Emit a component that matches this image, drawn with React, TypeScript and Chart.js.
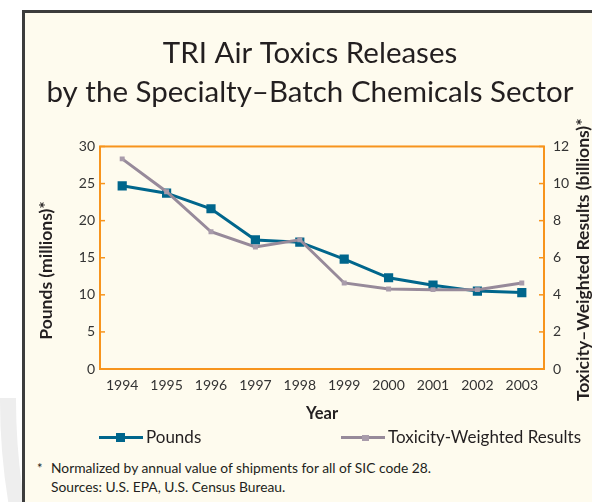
import React, { useEffect, useRef } from "react";
import { Chart, registerables } from "chart.js";

Chart.register(...registerables);

const years = ["1994", "1995", "1996", "1997", "1998", "1999", "2000", "2001", "2002", "2003"];
const pounds = [24.7, 23.7, 21.6, 17.4, 17.1, 14.8, 12.3, 11.3, 10.5, 10.3];
const toxicity = [11.33, 9.56, 7.4, 6.58, 6.97, 4.64, 4.31, 4.28, 4.28, 4.64];
const titleLines = ["TRI Air Toxics Releases", "by the Specialty\u2013Batch Chemicals Sector"];
const leftAxisTitle = "Pounds (millions)*      ";
const rightAxisTitle = "Toxicity\u2013Weighted Results (billions)*";
const xAxisTitle = "Year";
const footnote1 = "Normalized by annual value of shipments for all of SIC code 28.";
const footnote2 = "Sources: U.S. EPA, U.S. Census Bureau.";

const TEAL = "#00668c";
const GREY = "#978a9a";
const GREY_PT = "#a99cab";
const ORANGE = "#f7941d";
const TEXT = "#231f20";
const FONT = "Lato, 'Open Sans', sans-serif";

const framePlugin = {
  id: "frameTicks",
  beforeDatasetsDraw(chart: any) {
    const { ctx, chartArea } = chart;
    const { left, right, top, bottom } = chartArea;
    ctx.save();
    ctx.strokeStyle = ORANGE;
    ctx.lineWidth = 2;
    ctx.strokeRect(left, top, right - left, bottom - top);
    ctx.lineWidth = 1.5;
    const y = chart.scales.y;
    y.ticks.forEach((t: any) => {
      const py = y.getPixelForValue(t.value);
      ctx.beginPath();
      ctx.moveTo(left, py);
      ctx.lineTo(left + 5, py);
      ctx.stroke();
    });
    const y1 = chart.scales.y1;
    y1.ticks.forEach((t: any) => {
      const py = y1.getPixelForValue(t.value);
      ctx.beginPath();
      ctx.moveTo(right, py);
      ctx.lineTo(right - 5, py);
      ctx.stroke();
    });
    ctx.restore();
  },
  afterDraw(chart: any) {
    // right axis title reads bottom-to-top, as in the reference
    const { ctx, chartArea } = chart;
    const y1 = chart.scales.y1;
    ctx.save();
    ctx.fillStyle = TEXT;
    ctx.font = `bold 17.5px ${FONT}`;
    ctx.textAlign = "center";
    ctx.textBaseline = "middle";
    ctx.translate(y1.right - 8.5, (chartArea.top + chartArea.bottom) / 2 + 2);
    ctx.rotate(-Math.PI / 2);
    ctx.fillText(rightAxisTitle, 0, 0);
    ctx.restore();
  },
};

export default function App() {
  const ref = useRef<HTMLCanvasElement | null>(null);

  useEffect(() => {
    if (!ref.current) return;
    Chart.defaults.font.family = FONT;
    const chart = new Chart(ref.current, {
      type: "line",
      data: {
        labels: years,
        datasets: [
          {
            label: "Pounds",
            data: pounds,
            yAxisID: "y",
            borderColor: TEAL,
            backgroundColor: TEAL,
            borderWidth: 3,
            pointStyle: "rect",
            pointRadius: 6.5,
            pointBorderWidth: 0,
            pointBackgroundColor: TEAL,
            order: 2,
          },
          {
            label: "Toxicity-Weighted Results",
            data: toxicity,
            yAxisID: "y1",
            borderColor: GREY,
            backgroundColor: GREY_PT,
            borderWidth: 3,
            pointStyle: "rect",
            pointRadius: 3.5,
            pointBorderWidth: 0,
            pointBackgroundColor: GREY_PT,
            order: 1,
          },
        ],
      },
      options: {
        animation: false,
        responsive: false,
        maintainAspectRatio: false,
        layout: { padding: { left: 28, right: 0, top: 0, bottom: 0 } },
        plugins: {
          legend: { display: false },
          tooltip: { enabled: false },
          title: {
            display: true,
            text: titleLines,
            color: TEXT,
            font: { family: FONT, size: 29.5, weight: "normal", lineHeight: 1.33 },
            padding: { top: 34, bottom: 34 },
          },
        },
        scales: {
          x: {
            offset: true,
            grid: { display: false, drawTicks: false },
            border: { display: false },
            ticks: { color: "#333", font: { size: 14 }, padding: 8, maxRotation: 0 },
            title: {
              display: true,
              text: xAxisTitle,
              color: TEXT,
              font: { size: 16.5, weight: "bold", lineHeight: 1.2 },
              padding: { top: 0, bottom: 6 },
            },
            afterFit: (s: any) => {
              s.height = 61;
            },
          },
          y: {
            position: "left",
            min: 0,
            max: 30,
            grid: { display: false, drawTicks: false },
            border: { display: false },
            ticks: { stepSize: 5, color: "#333", font: { size: 14 }, padding: 5 },
            title: {
              display: true,
              text: leftAxisTitle,
              color: TEXT,
              font: { size: 17.5, weight: "bold", lineHeight: 1.0 },
              padding: { top: 10, bottom: 0 },
            },
            afterFit: (s: any) => {
              s.width = 72;
            },
          },
          y1: {
            position: "right",
            min: 0,
            max: 12,
            grid: { display: false, drawTicks: false },
            border: { display: false },
            ticks: { stepSize: 2, color: "#333", font: { size: 14 }, padding: 9 },
            title: { display: false, text: rightAxisTitle },
            afterFit: (s: any) => {
              s.width = 48;
            },
          },
        },
      },
      plugins: [framePlugin],
    });
    return () => chart.destroy();
  }, []);

  const abs = (o: any): React.CSSProperties => ({ position: "absolute", ...o });

  return (
    <div style={abs({ left: 0, top: 0, width: 592, height: 502, overflow: "hidden", background: "#fff", fontFamily: FONT })}>
      <div style={abs({ left: 0, top: 398, width: 22, height: 104, overflow: "hidden" })}>
        <div
          style={abs({
            left: 0,
            top: 2 - 629,
            width: 1258,
            height: 1258,
            borderRadius: "50%",
            border: "16px solid #eeeeee",
            boxSizing: "border-box",
          })}
        />
      </div>
      <div
        style={abs({
          left: 22,
          top: 10,
          width: 640,
          height: 560,
          background: "#fefbee",
          borderLeft: "3px solid #3c3c3c",
          borderTop: "3px solid #3c3c3c",
          boxSizing: "border-box",
        })}
      />
      <canvas ref={ref} width={592} height={430} style={abs({ left: 0, top: 0, width: 592, height: 430 })} />
      <div style={abs({ left: 99, top: 436, width: 44, height: 3, background: TEAL })} />
      <div style={abs({ left: 116, top: 433, width: 9, height: 9, background: TEAL })} />
      <div style={abs({ left: 146, top: 426, height: 22, lineHeight: "22px", fontSize: 17, color: TEXT, whiteSpace: "nowrap" })}>
        Pounds
      </div>
      <div style={abs({ left: 341, top: 436, width: 44, height: 3, background: GREY })} />
      <div style={abs({ left: 362, top: 434.5, width: 7, height: 6, background: GREY_PT })} />
      <div style={abs({ left: 388, top: 426, height: 22, lineHeight: "22px", fontSize: 17, color: TEXT, whiteSpace: "nowrap" })}>
        Toxicity-Weighted Results
      </div>
      <div style={abs({ left: 37, top: 459, height: 18, lineHeight: "18px", fontSize: 13, color: TEXT })}>*</div>
      <div style={abs({ left: 51, top: 459, height: 18, lineHeight: "18px", fontSize: 13.8, color: TEXT, whiteSpace: "nowrap" })}>
        {footnote1}
      </div>
      <div style={abs({ left: 51, top: 478, height: 18, lineHeight: "18px", fontSize: 13.8, color: TEXT, whiteSpace: "nowrap" })}>
        {footnote2}
      </div>
    </div>
  );
}
